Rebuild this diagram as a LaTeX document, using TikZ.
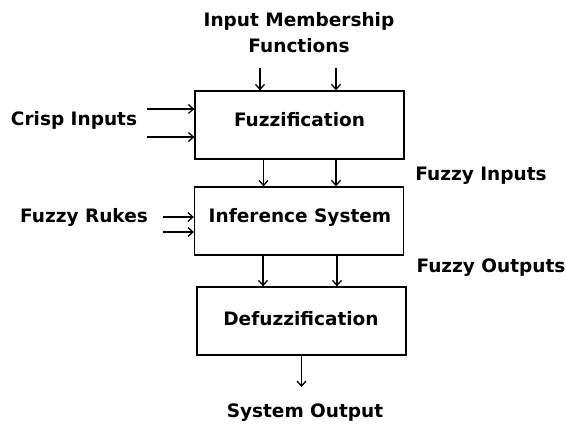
\documentclass[tikz,border=0pt]{standalone}
\usepackage{fontspec}
\setmainfont{DejaVu Sans}
\usepackage{tikz}
\usetikzlibrary{arrows.meta}

\tikzset{
    stage/.style = {draw, line width = 1.3pt, minimum width = 209pt,
        minimum height = 68pt, inner sep = 0pt},
    lbl/.style = {font = \fontsize{18.5}{26}\selectfont\bfseries,
        align = center, inner sep = 0pt},
    flow/.style = {-{Straight Barb[length = 5pt, width = 9pt]},
        line width = 1.3pt}
}

\begin{document}
\begin{tikzpicture}[x = 1pt, y = -1pt]
        \useasboundingbox (0, 0) rectangle (566, 424);

        \node[stage] (fuzz) at (299.5, 125) {};
        \node[stage] (infer) at (299, 221) {};
        \node[stage] (defuzz) at (301.5, 321) {};

        \node[lbl] (fuzzt) at (299.5, 120) {Fuzzification};
        \node[lbl] (infert) at (300, 217) {Inference System};
        \node[lbl] (defuzzt) at (301, 319) {Defuzzification};

        \node[lbl] (mf) at (299, 33) {Input Membership\\Functions};
        \node[lbl] (crisp) at (74, 120) {Crisp Inputs};
        \node[lbl] (rules) at (84, 217) {Fuzzy Rukes};
        \node[lbl] (fin) at (481, 176) {Fuzzy Inputs};
        \node[lbl] (fout) at (491, 268) {Fuzzy Outputs};
        \node[lbl] (sysout) at (305, 413) {System Output};

        % free ends of the incoming arrows
        \coordinate (mf1) at (260, 68);
        \coordinate (mf2) at (336, 68);
        \coordinate (ci1) at (147, 109);
        \coordinate (ci2) at (147, 137);
        \coordinate (fr1) at (163, 217);
        \coordinate (fr2) at (163, 232);
        \coordinate (so) at (301.5, 387);

        \draw[flow] (mf1) -- (mf1 |- fuzz.north);
        \draw[flow] (mf2) -- (mf2 |- fuzz.north);
        \draw[flow] (ci1) -- (ci1 -| fuzz.west);
        \draw[flow] (ci2) -- (ci2 -| fuzz.west);
        \draw[flow] (fr1) -- (fr1 -| infer.west);
        \draw[flow] (fr2) -- (fr2 -| infer.west);

        % between the stages
        \draw[flow] ([xshift = -36pt]fuzz.south) -- ([xshift = -36pt]fuzz.south |- infer.north);
        \draw[flow] ([xshift = 36.5pt]fuzz.south) -- ([xshift = 36.5pt]fuzz.south |- infer.north);
        \draw[flow] ([xshift = -36pt]infer.south) -- ([xshift = -36pt]infer.south |- defuzz.north);
        \draw[flow] ([xshift = 38pt]infer.south) -- ([xshift = 38pt]infer.south |- defuzz.north);

        \draw[flow] (defuzz.south) -- (so);
    \end{tikzpicture}
\end{document}
